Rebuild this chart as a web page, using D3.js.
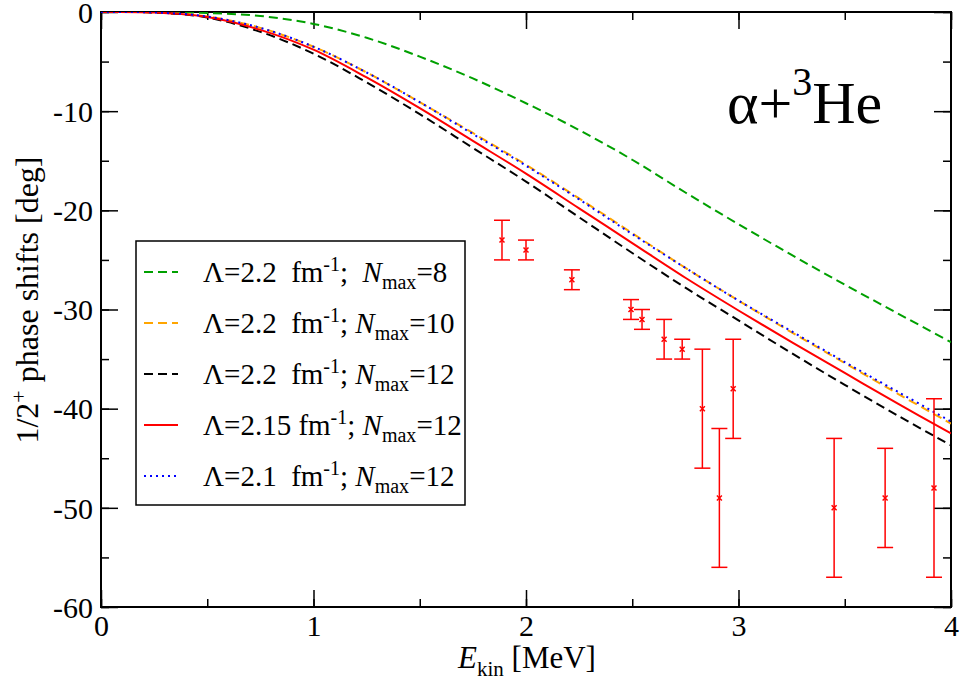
<!DOCTYPE html>
<html><head><meta charset="utf-8">
<script src="https://cdn.jsdelivr.net/npm/d3@7"></script>
<style>body{margin:0;background:#fff}svg text{font-family:"Liberation Serif","Times New Roman",serif;fill:#000}</style>
</head><body><svg id="c" width="961" height="685"></svg>
<script>
const energies = [0,0.25,0.5,0.75,1,1.25,1.5,1.75,2,2.25,2.5,2.75,3,3.25,3.5,3.75,4];
const nmax8_L22  = [0,0,-0.1,-0.4,-1.2,-2.6,-4.5,-6.7,-9.2,-11.9,-14.9,-18.2,-21.4,-24.5,-27.5,-30.4,-33.3];
const nmax10_L22 = [0,-0.05,-0.45,-1.6,-3.5,-6.1,-9.1,-12.2,-15.4,-18.8,-22.3,-25.8,-29.1,-32.3,-35.4,-38.5,-41.5];
const nmax12_L22 = [0,-0.05,-0.55,-2.0,-4.2,-7.1,-10.3,-13.7,-17.1,-20.7,-24.3,-27.8,-31.1,-34.4,-37.6,-40.7,-43.7];
const nmax12_L215= [0,-0.05,-0.5,-1.8,-3.8,-6.6,-9.7,-13.0,-16.3,-19.8,-23.3,-26.8,-30.1,-33.3,-36.4,-39.5,-42.5];
const nmax12_L21 = [0,-0.05,-0.45,-1.6,-3.5,-6.1,-9.1,-12.3,-15.5,-18.9,-22.4,-25.8,-29.1,-32.2,-35.3,-38.3,-41.3];

const expE   = [1.887,2.0,2.216,2.494,2.546,2.65,2.735,2.83,2.91,2.975,3.45,3.69,3.92];
const expVal = [-23,-24,-27,-30,-31,-33,-34,-40,-49,-38,-50,-49,-48];
const expLo  = [-25,-25,-28,-31,-32,-35,-35,-46,-56,-43,-57,-54,-57];
const expHi  = [-21,-23,-26,-29,-30,-31,-33,-34,-42,-33,-43,-44,-39];

const xTicks = [0,1,2,3,4];
const yTicks = [0,-10,-20,-30,-40,-50,-60];

const series = [
  {vals:nmax8_L22,  color:"#00a000", dash:"9,5", lam:"2.2 ", nmax:"8",  sep:"; "},
  {vals:nmax10_L22, color:"#ffa500", dash:"9,5", lam:"2.2 ", nmax:"10", sep:";"},
  {vals:nmax12_L22, color:"#000000", dash:"9,5", lam:"2.2 ", nmax:"12", sep:";"},
  {vals:nmax12_L215,color:"#ff0000", dash:null,  lam:"2.15", nmax:"12", sep:";"},
  {vals:nmax12_L21, color:"#0000ff", dash:"2,4", lam:"2.1 ", nmax:"12", sep:";"}
];

const svg = d3.select("#c");
const x = d3.scaleLinear().domain([0,4]).range([101,951]);
const y = d3.scaleLinear().domain([-60,0]).range([607,12]);
const fmt = d => String(d);

// axes
const minorX = d3.range(0,4.01,0.5), minorY = d3.range(-60,0.1,5);
function ax(gen, tr, vals, size, f){
  const g = svg.append("g").attr("transform",tr).call(gen.tickValues(vals).tickSize(size).tickFormat(f));
  g.attr("font-family",null).attr("font-size",null);
  g.select(".domain").remove();
  g.selectAll("line").attr("stroke","#000").attr("stroke-width",1.5);
  return g;
}
ax(d3.axisBottom(x),"translate(0,607)",minorX,-8,"");
ax(d3.axisTop(x),"translate(0,12)",minorX,-8,"");
ax(d3.axisLeft(y),"translate(101,0)",minorY,-8,"");
ax(d3.axisRight(y),"translate(951,0)",minorY,-8,"");
const gb = ax(d3.axisBottom(x),"translate(0,607)",xTicks,-17,fmt);
gb.selectAll("text").attr("y",29).attr("dy",0).attr("font-size",30);
ax(d3.axisTop(x),"translate(0,12)",xTicks,-17,"");
const gl = ax(d3.axisLeft(y),"translate(101,0)",yTicks,-17,fmt);
gl.selectAll("text").attr("x",-8).attr("dy","0.34em").attr("font-size",30);
ax(d3.axisRight(y),"translate(951,0)",yTicks,-17,"");

svg.append("rect").attr("x",101).attr("y",12).attr("width",850).attr("height",595)
  .attr("fill","none").attr("stroke","#000").attr("stroke-width",2);

// curves
svg.append("clipPath").attr("id","cp").append("rect").attr("x",101).attr("y",12).attr("width",850).attr("height",595);
const line = d3.line().x((d,i)=>x(energies[i])).y(d=>y(d)).curve(d3.curveCatmullRom);
series.forEach(s=>{
  svg.append("path").attr("d",line(s.vals)).attr("fill","none").attr("stroke",s.color)
    .attr("stroke-width",2).attr("stroke-dasharray",s.dash).attr("clip-path","url(#cp)");
});

// experimental data
const red="#ff0000";
const ge = svg.append("g").attr("stroke",red).attr("stroke-width",1.5).attr("fill","none");
expE.forEach((e,i)=>{
  const cx=x(e);
  ge.append("line").attr("x1",cx).attr("x2",cx).attr("y1",y(expLo[i])).attr("y2",y(expHi[i]));
  [expLo[i],expHi[i]].forEach(v=>ge.append("line").attr("x1",cx-8).attr("x2",cx+8).attr("y1",y(v)).attr("y2",y(v)));
  const cy=y(expVal[i]);
  ge.append("path").attr("d",`M${cx-2.5},${cy-2.5}L${cx+2.5},${cy+2.5}M${cx-2.5},${cy+2.5}L${cx+2.5},${cy-2.5}`);
});

// legend
svg.append("rect").attr("x",136).attr("y",241).attr("width",329).attr("height",264)
  .attr("fill","#fff").attr("stroke","#000").attr("stroke-width",1.5);
series.forEach((s,i)=>{
  const ly = 272 + i*51;
  svg.append("line").attr("x1",144).attr("x2",178).attr("y1",ly).attr("y2",ly)
    .attr("stroke",s.color).attr("stroke-width",2).attr("stroke-dasharray",s.dash);
  const t = svg.append("text").attr("x",203).attr("y",ly+10).attr("font-size",29).attr("xml:space","preserve").style("white-space","pre");
  t.append("tspan").text("\u039B=" + s.lam + " fm");
  t.append("tspan").attr("dy",-11).attr("font-size",20).text("-1");
  t.append("tspan").attr("dy",11).text(s.sep + " ");
  t.append("tspan").attr("font-style","italic").text("N");
  t.append("tspan").attr("dy",7).attr("font-size",20).text("max");
  t.append("tspan").attr("dy",-7).text("=" + s.nmax);
});

// annotation
const ta = svg.append("text").attr("x",727).attr("y",123).attr("font-size",60);
ta.append("tspan").text("\u03B1+");
ta.append("tspan").attr("dy",-28).attr("font-size",40).text("3");
ta.append("tspan").attr("dy",28).text("He");

// axis titles
const xt = svg.append("text").attr("x",527).attr("y",668).attr("text-anchor","middle").attr("font-size",31);
xt.append("tspan").attr("font-style","italic").text("E");
xt.append("tspan").attr("dy",8).attr("font-size",21).text("kin");
xt.append("tspan").attr("dy",-8).text(" [MeV]");

const yt = svg.append("text").attr("transform","translate(38,300) rotate(-90)").attr("text-anchor","middle").attr("font-size",32);
yt.append("tspan").text("1/2");
yt.append("tspan").attr("dy",-12).attr("font-size",22).text("+");
yt.append("tspan").attr("dy",12).text(" phase shifts [deg]");
</script></body></html>
